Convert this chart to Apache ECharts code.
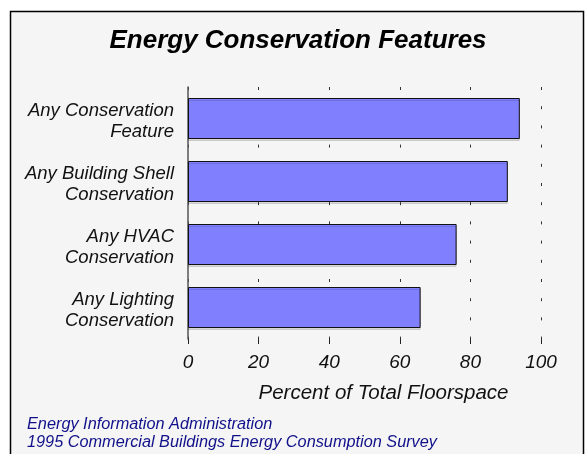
<!DOCTYPE html>
<html>
<head>
<meta charset="utf-8">
<script src="https://cdn.jsdelivr.net/npm/echarts@6/dist/echarts.min.js"></script>
<style>
  html, body { margin: 0; padding: 0; background: #ffffff; }
  #chart { width: 585px; height: 454px; }
</style>
</head>
<body>
<div id="chart"></div>
<script>
// categories, top to bottom
const categories = [
    'Any Conservation\nFeature',
    'Any Building Shell\nConservation',
    'Any HVAC\nConservation',
    'Any Lighting\nConservation'
];
// percent of total floorspace
const values = [94.0, 90.6, 76.1, 65.9];
const xTicks = [0, 20, 40, 60, 80, 100];

const titleText = 'Energy Conservation Features';
const footer = 'Energy Information Administration\n1995 Commercial Buildings Energy Consumption Survey';
const font = '"Liberation Sans", Arial, sans-serif';

var myChart = echarts.init(document.getElementById('chart'));
var option;

option = {
    backgroundColor: '#ffffff',
    graphic: [
        {
            type: 'rect',
            z: -10,
            shape: { x: 10.5, y: 11.5, width: 573, height: 470 },
            style: { fill: '#f5f5f5', stroke: '#000', lineWidth: 1.5 }
        },
        {
            // titulo centrado sobre el area del grafico
            type: 'text',
            x: 298,
            y: 41,
            style: {
                text: titleText,
                fontFamily: font,
                fontSize: 26,
                fontWeight: 'bold',
                fontStyle: 'italic',
                fill: '#000',
                align: 'center',
                verticalAlign: 'middle'
            }
        }
    ],
    title: {
        text: footer,
        left: 22,
        top: 410,
        textStyle: { fontFamily: font, fontSize: 16.3, fontStyle: 'italic', fontWeight: 'normal', color: '#10108a', lineHeight: 18 }
    },
    grid: { left: 188, right: 44, top: 87, bottom: 115 },
    xAxis: {
        type: 'value',
        min: xTicks[0],
        max: xTicks[xTicks.length - 1],
        interval: 20,
        name: 'Percent of Total Floorspace',
        nameLocation: 'middle',
        nameGap: 44,
        nameTextStyle: { fontFamily: font, fontSize: 20.5, fontStyle: 'italic', color: '#111', padding: [0, 0, 0, 38] },
        axisLine: { show: false },
        axisTick: { show: true, length: 5, lineStyle: { color: '#222', width: 1 } },
        axisLabel: { margin: 14, fontFamily: font, fontSize: 19, fontStyle: 'italic', color: '#111' },
        splitLine: { show: true, lineStyle: { color: '#333', width: 1, type: [3, 16.2] } }
    },
    yAxis: {
        type: 'category',
        inverse: true,
        data: categories,
        axisLine: { show: true, lineStyle: { color: '#555', width: 1.5 } },
        axisTick: { show: false },
        axisLabel: {
            margin: 14,
            align: 'right',
            // linea vacia arriba para bajar el texto unos px
            formatter: function (value) {
                return '{sp|}\n' + value.split('\n').map(s => '{t|' + s + '}').join('\n');
            },
            rich: {
                sp: { height: 6, lineHeight: 6, fontSize: 6 },
                t: { fontFamily: font, fontSize: 18.5, fontStyle: 'italic', color: '#111', lineHeight: 21, align: 'right' }
            }
        }
    },
    series: [
        {
            type: 'bar',
            data: values,
            barWidth: 41,
            itemStyle: {
                color: '#8080ff',
                borderColor: '#111',
                borderWidth: 1,
                shadowColor: 'rgba(0,0,0,0.12)',
                shadowOffsetY: 2,
                shadowBlur: 0
            },
            silent: true
        }
    ],
    animation: false
};

option && myChart.setOption(option);
</script>
</body>
</html>
